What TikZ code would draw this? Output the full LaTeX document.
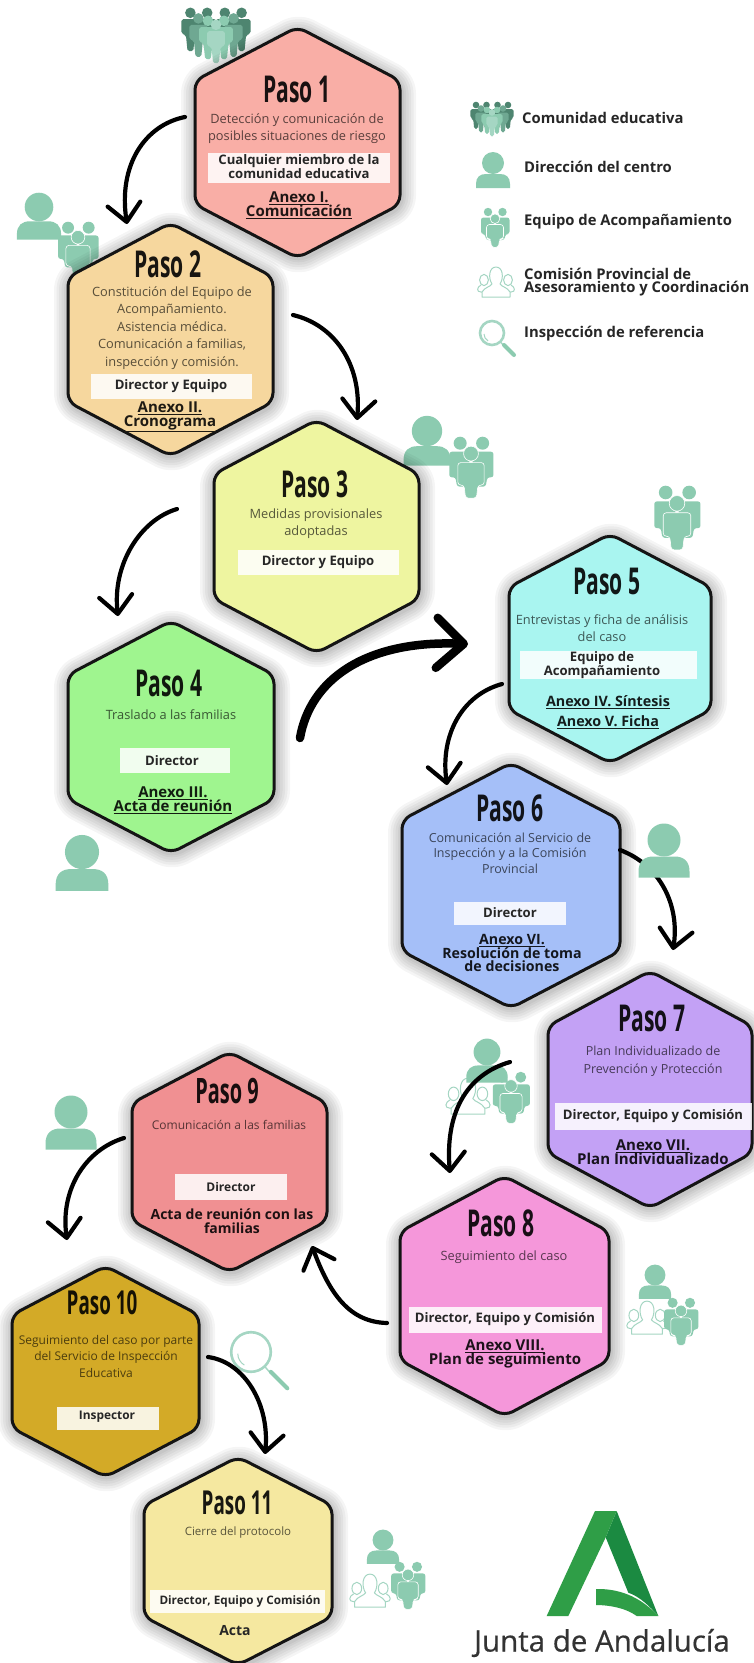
\documentclass[tikz,border=0pt]{standalone}
\usepackage{fontspec}
\setmainfont{Open Sans}
\newfontfamily\pasofont{Open Sans}[FakeStretch=0.57]
\newfontfamily\juntafont{Open Sans}[FakeBold=0.5]
\usetikzlibrary{arrows.meta}
\definecolor{icmain}{HTML}{8CCBB0}
\definecolor{iclight}{HTML}{A5D6C3}
\definecolor{icdark}{HTML}{4E8570}
\definecolor{icmid}{HTML}{6FA892}
\definecolor{labdark}{HTML}{262626}
\definecolor{logolight}{HTML}{2F9E47}
\definecolor{logodark}{HTML}{1B8A41}
\colorlet{cur}{black}
\newcommand{\figura}[3]{%
  \fill[#3] (#1,#2) circle (3.3);
  \fill[#3,rounded corners=1.8pt,shift={(#1,#2)}] (-5.6,4) -- (5.6,4) -- (5.6,13) -- (2.8,14) -- (1.8,24) -- (-1.8,24) -- (-2.8,14) -- (-5.6,13) -- cycle;
}
\tikzset{
  x=1pt,y=-1pt,
  titulo/.style={font=\pasofont\fontsize{37}{37}\selectfont\bfseries,text=cur!10!black,inner sep=0pt},
  desc/.style={font=\fontsize{12.8}{17}\selectfont,text=cur!36!black,align=center,inner sep=0pt},
  boxlab/.style={font=\bfseries\fontsize{13.1}{12}\selectfont,text=labdark,align=center,inner sep=0pt},
  anexo/.style={font=\bfseries\fontsize{15}{14}\selectfont,text=cur!12!black,align=center,inner sep=0pt},
  legendlab/.style={font=\bfseries\fontsize{14.8}{13}\selectfont,text=labdark,align=left,anchor=west,inner sep=0pt},
  flecha/.style={line width=4.2pt,line cap=round,black,-{Straight Barb[length=18pt,width=33pt,line width=4.2pt,round]}},
  flechagorda/.style={line width=8.5pt,line cap=round,black,-{Straight Barb[length=27pt,width=50pt,line width=8.5pt,round]}},
  personicon/.pic={
    \fill[icmain] (0,0) circle (11);
    \fill[icmain] (-17,25) -- (-17,21) .. controls (-17,14) and (-13,11) .. (-7,11) -- (7,11) .. controls (13,11) and (17,14) .. (17,21) -- (17,25) -- cycle;
  },
  teamicon/.pic={
    \fill[icmain] (-7,4) circle (4.2) (7.5,4) circle (4.2);
    \fill[icmain,rounded corners=2.5pt] (-14,9.5) -- (-1,9.5) -- (-1,32) -- (-9,32) -- (-10,26) -- (-14,26) -- cycle;
    \fill[icmain,rounded corners=2.5pt] (14.5,9.5) -- (1,9.5) -- (1,32) -- (9.5,32) -- (10.5,26) -- (14.5,26) -- cycle;
    \fill[icmain,draw=white,line width=.6pt] (0,10.7) circle (4.8);
    \fill[icmain,draw=white,line width=.6pt,rounded corners=3pt] (-8.5,16.5) -- (8.5,16.5) -- (8.5,31) -- (4.5,31) -- (3.5,39.5) -- (-3.5,39.5) -- (-4.5,31) -- (-8.5,31) -- cycle;
  },
  comunidadicon/.pic={
    \figura{-16}{3}{icdark}
    \figura{16}{3}{icdark}
    \figura{-5.5}{3}{icdark}
    \figura{5.5}{3}{icdark}
    \figura{-11}{6.5}{icmid}
    \figura{11}{6.5}{icmid}
    \figura{-5}{8}{icmain}
    \figura{5}{8}{icmain}
    \figura{0}{10.5}{iclight}
  },
  comisionicon/.pic={
    \begin{scope}[draw=iclight,line width=1pt,line join=round]
      \draw (-12,14) ellipse (4.4 and 5.6);
      \draw (12,14) ellipse (4.4 and 5.6);
      \draw (-8,26) -- (-15,26) .. controls (-20,26) and (-19,21) .. (-15,19);
      \draw (8,26) -- (15,26) .. controls (20,26) and (19,21) .. (15,19);
      \draw[fill=white] (-14,31) -- (-14,26) .. controls (-11,21) and (-6,21) .. (-4,18) .. controls (-8,12) and (-7,1) .. (0,1) .. controls (7,1) and (8,12) .. (4,18) .. controls (6,21) and (11,21) .. (14,26) -- (14,31) -- cycle;
    \end{scope}
  },
  lensicon/.pic={
    \draw[iclight,line width=2.6pt] (0,0) circle (12);
    \draw[iclight,line width=1pt] (-8,1) arc[start angle=180,end angle=120,radius=8];
    \draw[iclight,line width=1.4pt] (8.5,9) -- (12,13);
    \draw[icmain,line width=4pt,line cap=round] (12,12) -- (22,22);
  }
}
\newcommand{\hexa}[6]{%
  \definecolor{cur}{HTML}{#6}%
  \pgfmathsetmacro{\hx}{(#2+#3)/2}%
  \pgfmathsetmacro{\hs}{0.232*(#5-#4)}%
  \pgfmathsetmacro{\hu}{#4+\hs}%
  \pgfmathsetmacro{\hd}{#5-\hs}%
  \coordinate (#1) at (\hx,{(#4+#5)/2});
  \foreach \w in {30,25,20,15,10,6}
    \draw[black,opacity=.04,line width=\w pt,line join=round,rounded corners=10pt,shift={(1,2)}]
      (\hx,#4) -- (#3,\hu) -- (#3,\hd) -- (\hx,#5) -- (#2,\hd) -- (#2,\hu) -- cycle;
  \draw[fill=cur,draw=black!92,line width=3pt,line join=round,rounded corners=9pt]
      (\hx,#4) -- (#3,\hu) -- (#3,\hd) -- (\hx,#5) -- (#2,\hd) -- (#2,\hu) -- cycle;
}
\newcommand{\caja}[4]{\fill[white,fill opacity=.86] (#1,#2) rectangle (#3,#4);}
\begin{document}
\begin{tikzpicture}
\useasboundingbox (0,0) rectangle (753,1663);
\fill[white] (0,0) rectangle (753,1663);

% icons lying behind the hexagons
\pic[scale=1.6] at (216,8) {comunidadicon};
\pic[scale=1.3] at (39,207) {personicon};
\pic[scale=1.42] at (78,222) {teamicon};
\pic[scale=1.38] at (427,431) {personicon};
\pic[scale=1.55] at (471,437) {teamicon};
\pic[scale=1.62] at (677,486) {teamicon};
\pic[scale=1.55] at (82,852) {personicon};
\pic[scale=1.2] at (468,1077) {comisionicon};
\pic[scale=1.3] at (511,1072) {teamicon};
\pic[scale=1.22] at (487,1052) {personicon};
\pic[scale=.95] at (655,1275) {personicon};
\pic[scale=1.1] at (647,1300) {comisionicon};
\pic[scale=1.2] at (681,1298) {teamicon};
\pic[scale=1.5] at (71,1112) {personicon};
\pic[scale=1.65] at (251,1352) {lensicon};
\pic[scale=.95] at (383,1540) {personicon};
\pic[scale=1.1] at (370,1573) {comisionicon};
\pic[scale=1.2] at (408,1562) {teamicon};

% free ends of the connectors
\coordinate (a1s) at (185,117); \coordinate (a1e) at (127,224);
\coordinate (a2s) at (293,315); \coordinate (a2e) at (357,420);
\coordinate (a3s) at (177,509); \coordinate (a3e) at (118,616);
\coordinate (a4s) at (300,738); \coordinate (a4e) at (468,644);
\coordinate (a5s) at (502,684); \coordinate (a5e) at (447,785);
\coordinate (a6s) at (620,850); \coordinate (a6e) at (673,950);
\coordinate (a7s) at (510,1062); \coordinate (a7e) at (450,1173);
\coordinate (a8s) at (387,1323); \coordinate (a8e) at (312,1246);
\coordinate (a9s) at (124,1138); \coordinate (a9e) at (67,1240);
\coordinate (a10s) at (208,1357); \coordinate (a10e) at (265,1454);

% Paso 1
\hexa{p1}{195}{400}{27}{258}{F9AEA6}
\node[titulo] (t1) at (297,89) {Paso 1};
\node[desc] (d1) at (297,129) {Detección y comunicación de\\posibles situaciones de riesgo};
\caja{208}{153}{390}{183}
\node[boxlab] (b1) at (299,167) {Cualquier miembro de la\\comunidad educativa};
\node[anexo] (x1) at (299,205) {\underline{Anexo I.}\\\underline{Comunicación}};

% Paso 2
\hexa{p2}{68}{273}{223}{456}{F6D79E}
\node[titulo] (t2) at (168,264) {Paso 2};
\node[desc,font=\fontsize{12.8}{17.4}\selectfont] (d2) at (172,328) {Constitución del Equipo de\\Acompañamiento.\\Asistencia médica.\\Comunicación a familias,\\inspección y comisión.};
\caja{91}{374}{252}{399}
\node[boxlab] (b2) at (171,386) {Director y Equipo};
\node[anexo] (x2) at (170,417) {\underline{Anexo II.}\\\underline{Cronograma}};

% Paso 3
\hexa{p3}{214}{419}{420}{653}{EEF5A0}
\node[titulo] (t3) at (315,484) {Paso 3};
\node[desc] (d3) at (316,524) {Medidas provisionales\\adoptadas};
\caja{238}{550}{399}{575}
\node[boxlab] (b3) at (318,562) {Director y Equipo};

% Paso 4
\hexa{p4}{68}{274}{621}{853}{9FF58F}
\node[titulo] (t4) at (169,683) {Paso 4};
\node[desc] (d4) at (171,715) {Traslado a las familias};
\caja{120}{748}{230}{773}
\node[boxlab] (b4) at (172,761) {Director};
\node[anexo] (x4) at (173,800) {\underline{Anexo III.}\\\underline{Acta de reunión}};

% arrows 1 to 4
\draw[flecha] (a1s) .. controls (145,125) and (118,165) .. (a1e);
\draw[flecha] (a2s) .. controls (335,325) and (362,365) .. (a2e);
\draw[flecha] (a3s) .. controls (140,520) and (112,565) .. (a3e);
\draw[flechagorda] (a4s) .. controls (310,680) and (365,640) .. (a4e);

% Paso 5
\hexa{p5}{509}{711}{534}{763}{A9F5F0}
\node[titulo] (t5) at (607,581) {Paso 5};
\node[desc] (d5) at (602,628) {Entrevistas y ficha de análisis\\del caso};
\caja{520}{651}{697}{679}
\node[boxlab] (b5) at (602,665) {Equipo de\\Acompañamiento};
\node[anexo,font=\bfseries\fontsize{14.3}{20}\selectfont] (x5) at (608,712) {\underline{Anexo IV. Síntesis}\\\underline{Anexo V. Ficha}};

\draw[flecha] (a5s) .. controls (462,695) and (440,735) .. (a5e);

% Paso 6
\hexa{p6}{402}{620}{763}{1008}{A5BFF8}
\node[titulo] (t6) at (510,808) {Paso 6};
\node[desc,font=\fontsize{12.5}{15.7}\selectfont] (d6) at (510,853) {Comunicación al Servicio de\\Inspección y a la Comisión\\Provincial};
\caja{454}{902}{566}{925}
\node[boxlab] (b6) at (510,913) {Director};
\node[anexo,font=\bfseries\fontsize{14.2}{12.6}\selectfont] (x6) at (512,953) {\underline{Anexo VI.}\\Resolución de toma\\de decisiones};

\draw[flecha] (a6s) .. controls (660,865) and (680,905) .. (a6e);
\pic[scale=1.5] at (664,840) {personicon};

% Paso 7
\hexa{p7}{548}{752}{971}{1208}{C3A1F5}
\node[titulo] (t7) at (652,1018) {Paso 7};
\node[desc,font=\fontsize{12.5}{18}\selectfont] (d7) at (653,1061) {Plan Individualizado de\\Prevención y Protección};
\caja{555}{1103}{752}{1130}
\node[boxlab] (b7) at (653,1116) {Director, Equipo y Comisión};
\node[anexo] (x7) at (653,1152) {\underline{Anexo VII.}\\Plan Individualizado};

\draw[flecha] (a7s) .. controls (465,1075) and (445,1115) .. (a7e);

% Paso 8
\hexa{p8}{400}{609}{1176}{1416}{F597DA}
\node[titulo] (t8) at (501,1223) {Paso 8};
\node[desc] (d8) at (504,1257) {Seguimiento del caso};
\caja{409}{1307}{602}{1333}
\node[boxlab] (b8) at (505,1319) {Director, Equipo y Comisión};
\node[anexo] (x8) at (505,1354) {\underline{Anexo VIII.}\\Plan de seguimiento};

% Paso 9
\hexa{p9}{132}{327}{1052}{1272}{F09092}
\node[titulo,font=\pasofont\fontsize{35}{35}\selectfont\bfseries] (t9) at (227,1091) {Paso 9};
\node[desc,font=\fontsize{12}{17}\selectfont] (d9) at (229,1125) {Comunicación a las familias};
\caja{175}{1174}{287}{1200}
\node[boxlab,font=\bfseries\fontsize{12}{12}\selectfont] (b9) at (231,1187) {Director};
\node[anexo,font=\bfseries\fontsize{14}{14}\selectfont] (x9) at (232,1221) {Acta de reunión con las\\familias};

\draw[flecha] (a8s) .. controls (350,1322) and (330,1295) .. (a8e);
\draw[flecha] (a9s) .. controls (85,1150) and (60,1190) .. (a9e);

% Paso 10
\hexa{p10}{12}{199}{1266}{1477}{D3AA27}
\node[titulo,font=\pasofont\fontsize{33}{33}\selectfont\bfseries] (t10) at (102,1303) {Paso 10};
\node[desc,font=\fontsize{12}{16.5}\selectfont] (d10) at (106,1356) {Seguimiento del caso por parte\\del Servicio de Inspección\\Educativa};
\caja{57}{1407}{159}{1430}
\node[boxlab,font=\bfseries\fontsize{11.9}{11}\selectfont] (b10) at (107,1417) {Inspector};

\draw[flecha] (a10s) .. controls (245,1362) and (270,1405) .. (a10e);

% Paso 11
\hexa{p11}{144}{332}{1457}{1665}{F5E8A0}
\node[titulo,font=\pasofont\fontsize{33}{33}\selectfont\bfseries] (t11) at (237,1503) {Paso 11};
\node[desc,font=\fontsize{11.5}{16}\selectfont] (d11) at (238,1532) {Cierre del protocolo};
\caja{150}{1590}{325}{1613}
\node[boxlab,font=\bfseries\fontsize{11.7}{11}\selectfont] (b11) at (240,1601) {Director, Equipo y Comisión};
\node[boxlab,font=\bfseries\fontsize{14}{14}\selectfont] (x11) at (235,1631) {Acta};

% legend
\pic at (492,102) {comunidadicon};
\pic at (493,163) {personicon};
\pic at (495,208) {teamicon};
\pic at (496,266) {comisionicon};
\pic at (492,333) {lensicon};
\node[legendlab] (l1) at (522,118) {Comunidad educativa};
\node[legendlab] (l2) at (524,167) {Dirección del centro};
\node[legendlab] (l3) at (524,222) {Equipo de Acompañamiento};
\node[legendlab] (l4) at (524,282) {Comisión Provincial de\\Asesoramiento y Coordinación};
\node[legendlab] (l5) at (524,334) {Inspección de referencia};

% logo
\begin{scope}[shift={(440,1480)},scale=1/3]
  \fill[logodark] (530,93) -- (655,408) .. controls (630,380) and (600,350) .. (565,338) -- (497,172) -- cycle;
  \fill[logolight] (320,408) -- (465,93) -- (530,93) -- (497,172) -- (385,408) -- cycle;
  \fill[logolight] (468,327) .. controls (550,325) and (610,360) .. (655,408) -- (590,408) .. controls (560,385) and (510,375) .. (468,375) -- cycle;
\end{scope}
\node[font=\juntafont\fontsize{29.5}{29.5}\selectfont,text=black!80,inner sep=0pt] (logotext) at (602,1643) {Junta de Andalucía};
\end{tikzpicture}
\end{document}
